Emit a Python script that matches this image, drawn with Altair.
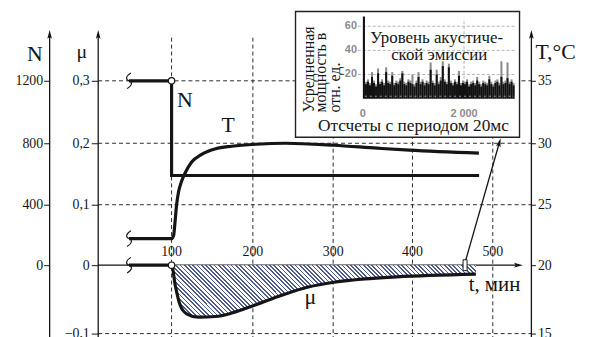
import altair as alt
import pandas as pd

SERIF = "Liberation Serif"
SANS = "Liberation Sans"
INK = "#151515"
HATCH = "#4d5b8f"
GRAYTXT = "#8c8c8c"

# ---------------- data ----------------
T_TICKS = [100, 200, 300, 400, 500]
MU_TICKS = [-0.1, 0.0, 0.1, 0.2, 0.3]
N_TICKS = [0, 400, 800, 1200]
TEMP_TICKS = [15, 20, 25, 30, 35]
MU_GRID = [-0.1, 0.1, 0.2, 0.3]

N_T = [42, 100, 100, 483]
N_V = [1200, 1200, 590, 590]

TEMP_T = [42, 100, 102.5, 104.3, 106.2, 108.6, 112.3, 117.3, 124.7, 137, 154.3,
          174, 203.7, 240.7, 301, 355.6, 396, 482.7]
TEMP_V = [22.2, 22.2, 22.46, 23.6, 25.0, 26.05, 26.9, 27.66, 28.47, 29.1, 29.56,
          29.76, 29.92, 30.0, 29.84, 29.6, 29.44, 29.2]

MU_T = [42, 100, 104.6, 110.7, 118.5, 133, 154, 174, 201, 236, 269, 301, 340, 380, 479]
MU_V = [0, 0, -0.030, -0.059, -0.071, -0.076, -0.075, -0.070, -0.059, -0.044,
        -0.032, -0.025, -0.020, -0.017, -0.013]

BREAK_T = 42
JUMP_T = 100

# inset: averaged acoustic-emission power, one value per 40 samples
INSET_BIN = 40
INSET_BLACK = [68, 12, 14, 11, 18, 13, 10, 21, 12, 14,
               11, 22, 13, 12, 19, 11, 13, 12, 15, 21,
               12, 11, 14, 13, 12, 10, 13, 18, 12, 14,
               11, 13, 12, 24, 13, 11, 20, 12, 15, 27,
               14, 12, 26, 13, 11, 14, 12, 19, 11, 13,
               12, 14, 10, 12, 13, 11, 15, 12, 10, 13,
               12, 11, 16, 12, 10, 13, 14, 11, 18, 12,
               13, 17, 12, 14, 11]
INSET_GRAY = [68, 14, 16, 13, 22, 15, 12, 25, 14, 16,
              13, 26, 15, 14, 22, 13, 15, 14, 17, 23,
              14, 13, 16, 15, 20, 12, 15, 22, 14, 16,
              13, 15, 14, 30, 15, 13, 24, 14, 18, 31,
              16, 14, 29, 15, 13, 16, 14, 23, 13, 15,
              14, 16, 12, 14, 15, 13, 18, 14, 12, 15,
              14, 13, 19, 14, 12, 15, 16, 13, 31, 14,
              15, 30, 14, 16, 13]
INSET_YTICKS = [20, 40, 60]
INSET_XTICKS = [0, 2000]
INSET_XLABELS = ["0", "2 000"]

# ---------------- scales (layout) ----------------
xs = alt.Scale(domain=[0, 100, 200, 300, 400, 500], range=[0, 74, 156, 237, 317, 398],
               nice=False, zero=False)
YR = [307, 238, 177, 115, 52]
mus = alt.Scale(domain=[-0.1, 0, 0.1, 0.2, 0.3], range=YR, nice=False, zero=False)
ns = alt.Scale(domain=[-400, 0, 400, 800, 1200], range=YR, nice=False, zero=False)
ts = alt.Scale(domain=[15, 20, 25, 30, 35], range=YR, nice=False, zero=False)
ixs = alt.Scale(domain=[0, 2000], range=[267, 369], nice=False, zero=False)
iys = alt.Scale(domain=[0, 60], range=[70, -3], nice=False, zero=False)

AXT_N, AXT_MU, AXT_T = -66.2, 0, 548.1
Y_LO, Y_HI, Y_ARROW = -0.15, 0.37, 0.373
ARROW = "M0,-1 L0.45,0.7 L0,0.35 L-0.45,0.7 Z"
BREAK = "M0.25,-1 C-0.45,-0.6 -0.45,-0.15 0,0 C0.45,0.15 0.45,0.6 -0.25,1"


def X(f):
    return alt.X(f, type="quantitative", scale=xs, axis=None)


def Ymu(f):
    return alt.Y(f, type="quantitative", scale=mus, axis=None)


def tick_axis(**kw):
    base = dict(domain=False, ticks=True, tickColor=INK, tickWidth=1, labelFont=SERIF,
                labelFontSize=14, labelColor=INK, grid=False, title="", labelOverlap=False)
    base.update(kw)
    return alt.Axis(**base)


layers = []

# grid
vg = pd.DataFrame({"t": T_TICKS, "lo": Y_LO, "hi": Y_HI})
layers.append(alt.Chart(vg).mark_rule(color=INK, strokeWidth=0.9, strokeDash=[4, 3]).encode(
    x=X("t"), y=Ymu("lo"), y2="hi"))
hg = pd.DataFrame({"mu": MU_GRID, "a": AXT_MU, "b": AXT_T})
layers.append(alt.Chart(hg).mark_rule(color=INK, strokeWidth=0.9, strokeDash=[4, 3]).encode(
    x=X("a"), x2="b", y=Ymu("mu")))

# axis lines + arrows
av = pd.DataFrame({"t": [AXT_N, AXT_MU, AXT_T], "lo": Y_LO, "hi": Y_HI, "mu": Y_ARROW})
layers.append(alt.Chart(av).mark_rule(color=INK, strokeWidth=1.3).encode(
    x=X("t"), y=Ymu("lo"), y2="hi"))
layers.append(alt.Chart(av).mark_point(shape=ARROW, filled=True, color=INK, size=110, opacity=1).encode(
    x=X("t"), y=Ymu("mu")))
ah = pd.DataFrame({"a": [0], "b": [532], "mu": [0]})
layers.append(alt.Chart(ah).mark_rule(color=INK, strokeWidth=1.2).encode(
    x=X("a"), x2="b", y=Ymu("mu")))
layers.append(alt.Chart(pd.DataFrame({"t": [531], "mu": [0]})).mark_point(
    shape=ARROW, filled=True, color=INK, size=110, angle=90, opacity=1).encode(x=X("t"), y=Ymu("mu")))

# hatched area (stripes via a linear gradient)
W_BB, H_BB = 307.0, 52.4
span = W_BB + H_BB
s = span / (W_BB * (1 + (H_BB / W_BB) ** 2))
period = 4.3 / span
stops = []
off = 0.0
while off < 1.0:
    b = min(off + period * 0.4, 1.0)
    c = min(off + period, 1.0)
    stops += [alt.GradientStop(offset=off, color=HATCH), alt.GradientStop(offset=b, color=HATCH),
              alt.GradientStop(offset=b, color="#ffffff"), alt.GradientStop(offset=c, color="#ffffff")]
    off += period
grad = alt.LinearGradient(gradient="linear", stops=stops, x1=0, y1=1, x2=s, y2=1 - s * H_BB / W_BB)
area_df = pd.DataFrame({"t": MU_T[1:], "mu": MU_V[1:], "z": 0})
layers.append(alt.Chart(area_df).mark_area(fill=grad, interpolate="monotone").encode(
    x=X("t"), y=Ymu("mu"), y2="z"))

# curves
mu_df = pd.DataFrame({"t": MU_T, "mu": MU_V})
layers.append(alt.Chart(mu_df).mark_line(color=INK, strokeWidth=3.2, interpolate="monotone").encode(
    x=X("t"),
    y=alt.Y("mu:Q", scale=mus, axis=tick_axis(
        orient="left", values=MU_TICKS, tickSize=7, labelPadding=2,
        labelExpr="datum.value == 0 ? '0' : replace(format(datum.value, '.1f'), '.', ',')"))))

n_df = pd.DataFrame({"t": N_T, "N": N_V, "i": list(range(len(N_T)))})
layers.append(alt.Chart(n_df).mark_line(color=INK, strokeWidth=3.2).encode(
    x=X("t"),
    y=alt.Y("N:Q", scale=ns, axis=tick_axis(orient="left", offset=49, values=N_TICKS,
                                            format="d", tickSize=6, labelPadding=1)),
    order="i:Q"))

t_df = pd.DataFrame({"t": TEMP_T, "T": TEMP_V})
layers.append(alt.Chart(t_df).mark_line(color=INK, strokeWidth=3.2, interpolate="monotone").encode(
    x=X("t"),
    y=alt.Y("T:Q", scale=ts, axis=tick_axis(orient="right", values=TEMP_TICKS,
                                            tickSize=4, labelPadding=2))))

# break marks and open circles
br = pd.DataFrame({"t": BREAK_T, "mu": [N_V[0] / 4000, (TEMP_V[0] - 20) / 50, 0]})
layers.append(alt.Chart(br).mark_point(shape=BREAK, filled=False, color=INK, strokeWidth=1.1,
                                       size=250, opacity=1).encode(x=X("t"), y=Ymu("mu")))
oc = pd.DataFrame({"t": JUMP_T, "mu": [N_V[1] / 4000, 0]})
layers.append(alt.Chart(oc).mark_point(shape="circle", filled=True, fill="#ffffff", stroke=INK,
                                       strokeWidth=1.2, size=42, opacity=1).encode(x=X("t"), y=Ymu("mu")))

# x tick labels
layers.append(alt.Chart(pd.DataFrame({"t": T_TICKS, "lab": [str(v) for v in T_TICKS]})).mark_text(
    font=SERIF, fontSize=14, color=INK, baseline="alphabetic").encode(
    x=X("t"), y=alt.value(229), text="lab:N"))

# curve labels
layers.append(alt.Chart(pd.DataFrame({"t": [116.5], "N": [1030], "lab": ["N"]})).mark_text(
    font=SERIF, fontSize=22, color=INK, baseline="alphabetic").encode(
    x=X("t"), y=alt.Y("N:Q", scale=ns, axis=None), text="lab:N"))
layers.append(alt.Chart(pd.DataFrame({"t": [169.5], "T": [30.9], "lab": ["T"]})).mark_text(
    font=SERIF, fontSize=22, color=INK, baseline="alphabetic").encode(
    x=X("t"), y=alt.Y("T:Q", scale=ts, axis=None), text="lab:N"))
layers.append(alt.Chart(pd.DataFrame({"t": [271.6], "mu": [-0.0565], "lab": ["μ"]})).mark_text(
    font=SERIF, fontSize=22, color=INK, baseline="alphabetic").encode(
    x=X("t"), y=Ymu("mu"), text="lab:N"))
layers.append(alt.Chart(pd.DataFrame({"t": [470], "mu": [-0.0377], "lab": ["t, мин"]})).mark_text(
    font=SERIF, fontSize=21, color=INK, baseline="alphabetic", align="left").encode(
    x=X("t"), y=Ymu("mu"), text="lab:N"))

# axis titles
titles = pd.DataFrame({"lab": ["N", "μ", "T,°C"], "x": [-64, -16.5, 441], "y": [32, 29.5, 30],
                       "fs": [22, 20, 22], "al": ["center", "center", "left"]})
for _, r in titles.iterrows():
    layers.append(alt.Chart(pd.DataFrame({"lab": [r["lab"]]})).mark_text(
        font=SERIF, fontSize=float(r["fs"]), color=INK, baseline="alphabetic", align=r["al"]).encode(
        x=alt.value(float(r["x"])), y=alt.value(float(r["y"])), text="lab:N"))

# ---------------- inset ----------------
IX = lambda f: alt.X(f, type="quantitative", scale=ixs, axis=None)
IY = lambda f: alt.Y(f, type="quantitative", scale=iys, axis=None)
frame = pd.DataFrame({"s0": [-1333], "s1": [3098], "v0": [-32], "v1": [72.3]})
layers.append(alt.Chart(frame).mark_rect(fill="#ffffff", stroke="#222222", strokeWidth=1.4).encode(
    x=IX("s0"), x2="s1", y=IY("v0"), y2="v1"))
ig = pd.DataFrame({"v": INSET_YTICKS, "a": -100, "b": 3020})
layers.append(alt.Chart(ig).mark_rule(color="#b5b5b5", strokeWidth=1, strokeDash=[3, 2]).encode(
    x=IX("a"), x2="b", y=IY("v")))
layers.append(alt.Chart(pd.DataFrame({"s": [2000], "lo": [0], "hi": [66]})).mark_rule(
    color="#b5b5b5", strokeWidth=1, strokeDash=[3, 2]).encode(x=IX("s"), y=IY("lo"), y2="hi"))

n_bins = len(INSET_BLACK)
bars = pd.DataFrame({"s0": [i * INSET_BIN for i in range(n_bins)],
                     "s1": [(i + 1) * INSET_BIN for i in range(n_bins)],
                     "g": INSET_GRAY, "b": INSET_BLACK, "z": 0})
layers.append(alt.Chart(bars).mark_rect(color="#8a8a8a").encode(x=IX("s0"), x2="s1", y=IY("z"), y2="g"))
layers.append(alt.Chart(bars).mark_rect(color="#111111").encode(x=IX("s0"), x2="s1", y=IY("z"), y2="b"))
layers.append(alt.Chart(pd.DataFrame({"a": [40], "b": [3000], "v": [2]})).mark_rule(
    color="#9a9a9a", strokeWidth=1, strokeDash=[2, 3]).encode(x=IX("a"), x2="b", y=IY("v")))

layers.append(alt.Chart(pd.DataFrame({"v": INSET_YTICKS, "lab": [str(v) for v in INSET_YTICKS]})).mark_text(
    font=SANS, fontSize=11, fontWeight="bold", color=GRAYTXT, align="right", baseline="middle").encode(
    x=alt.value(261), y=IY("v"), text="lab:N"))
layers.append(alt.Chart(pd.DataFrame({"s": INSET_XTICKS, "lab": INSET_XLABELS})).mark_text(
    font=SANS, fontSize=11, fontWeight="bold", color=GRAYTXT, align="center", baseline="middle").encode(
    x=IX("s"), y=alt.value(85.5), text="lab:N"))

itext = pd.DataFrame({"lab": ["Уровень акустиче-", "ской эмиссии", "Отсчеты с периодом 20мс"],
                      "x": [341.5, 344, 318], "y": [14, 31, 103], "fs": [17, 17, 17.5]})
for _, r in itext.iterrows():
    layers.append(alt.Chart(pd.DataFrame({"lab": [r["lab"]]})).mark_text(
        font=SERIF, fontSize=float(r["fs"]), color=INK, baseline="alphabetic", align="center").encode(
        x=alt.value(float(r["x"])), y=alt.value(float(r["y"])), text="lab:N"))
ylab = pd.DataFrame({"lab": ["Усредненная", "мощность в", "отн. ед."], "x": [218, 229.5, 244]})
for _, r in ylab.iterrows():
    layers.append(alt.Chart(pd.DataFrame({"lab": [r["lab"]]})).mark_text(
        font=SERIF, fontSize=16, color=INK, baseline="alphabetic", align="left", angle=270).encode(
        x=alt.value(float(r["x"])), y=alt.value(84), text="lab:N"))

# pointer from the sampled window to the inset
layers.append(alt.Chart(pd.DataFrame({"a": [463], "b": [468], "lo": [-0.008], "hi": [0.009]})).mark_rect(
    fill="#ffffff", stroke=INK, strokeWidth=1).encode(x=X("a"), x2="b", y=Ymu("lo"), y2="hi"))
ptr = pd.DataFrame({"t": [466.5, 508], "mu": [0.009, 0.2]})
layers.append(alt.Chart(ptr).mark_line(color=INK, strokeWidth=1.3).encode(x=X("t"), y=Ymu("mu")))
layers.append(alt.Chart(ptr.tail(1)).mark_point(shape=ARROW, filled=True, color=INK, size=110,
                                               angle=16, opacity=1).encode(x=X("t"), y=Ymu("mu")))

chart = alt.layer(*layers).resolve_scale(x="independent", y="independent").properties(
    width=437, height=309,
    padding={"left": 91, "top": 20, "right": 50, "bottom": 0},
    autosize=alt.AutoSizeParams(type="none"),
    background="#ffffff",
).configure_view(strokeWidth=0)

chart.save("out.html", embed_options={"renderer": "svg", "actions": False})
